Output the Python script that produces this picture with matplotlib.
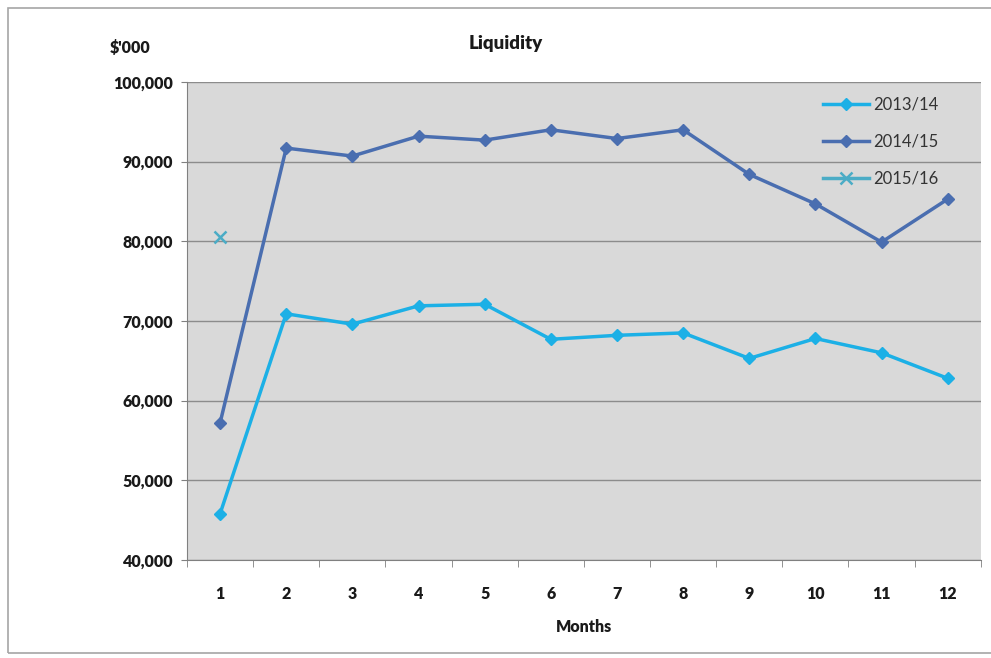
import matplotlib
matplotlib.use("Agg")
import matplotlib.pyplot as plt
from matplotlib.patches import Rectangle
import matplotlib.ticker as plt_ticker

plt.rcParams["font.family"] = ["Lato", "DejaVu Sans"]

months = list(range(1, 13))
liquidity_2013_14 = [45800, 70900, 69600, 71900, 72100, 67700, 68200, 68500, 65300, 67800, 66000, 62800]
liquidity_2014_15 = [57200, 91700, 90700, 93200, 92700, 94000, 92900, 94000, 88400, 84700, 79900, 85300]
months_2015_16 = [1]
liquidity_2015_16 = [80500]

fig = plt.figure(figsize=(9.91, 6.58), dpi=100)
ax = fig.add_axes([0.1887, 0.149, 0.801, 0.7264])
ax.set_facecolor("#d9d9d9")

ax.plot(months, liquidity_2013_14, "-D", color="#1cb0e6", lw=2.5, ms=6.5, label="2013/14")
ax.plot(months, liquidity_2014_15, "-D", color="#4a6eb0", lw=2.5, ms=6.5, label="2014/15")
ax.plot(months_2015_16, liquidity_2015_16, "-x", color="#4bacc6", lw=2.5, ms=8, mew=1.8, label="2015/16")

ax.set_xlim(0.5, 12.5)
ax.set_ylim(40000, 100000)
ax.set_xticks(months)
ax.xaxis.set_minor_locator(plt_ticker.FixedLocator([m + 0.5 for m in range(0, 13)]))
ax.tick_params(axis="x", which="major", length=0, pad=19)
ax.tick_params(axis="x", which="minor", length=5, color="#808080", direction="out")
ax.tick_params(axis="y", length=4, color="#808080", direction="out", pad=6)
ax.yaxis.set_major_locator(plt_ticker.MultipleLocator(10000))
ax.yaxis.set_major_formatter(plt_ticker.FuncFormatter(lambda v, p: f"{int(v):,}"))
for lbl in ax.get_xticklabels() + ax.get_yticklabels():
    lbl.set_fontweight("heavy")
    lbl.set_fontsize(11.5)
    lbl.set_color("#1a1a1a")

ax.grid(axis="y", color="#8c8c8c", lw=1)
ax.set_axisbelow(True)
for side in ["top", "right"]:
    ax.spines[side].set_visible(False)
ax.spines["left"].set_color("#808080")
ax.spines["bottom"].set_color("#808080")

ax.set_xlabel("Months", fontweight="heavy", fontsize=11.5, labelpad=12, color="#1a1a1a")
fig.text(0.51, 0.934, "Liquidity", ha="center", va="center", fontweight="heavy", fontsize=13.5, color="#1a1a1a")
fig.text(0.131, 0.927, "$'000", ha="center", va="center", fontweight="heavy", fontsize=11.5, color="#1a1a1a")

ax.legend(loc="upper right", frameon=False, fontsize=12, handlelength=2.8, handletextpad=0.2,
          bbox_to_anchor=(0.965, 1.0), labelspacing=1.25, labelcolor="#333333")

fig.patches.append(Rectangle((0.008, 0.008), 1.0, 0.98, transform=fig.transFigure,
                             fill=False, edgecolor="#a6a6a6", lw=1.2))

fig.savefig("out.png", dpi=100)
